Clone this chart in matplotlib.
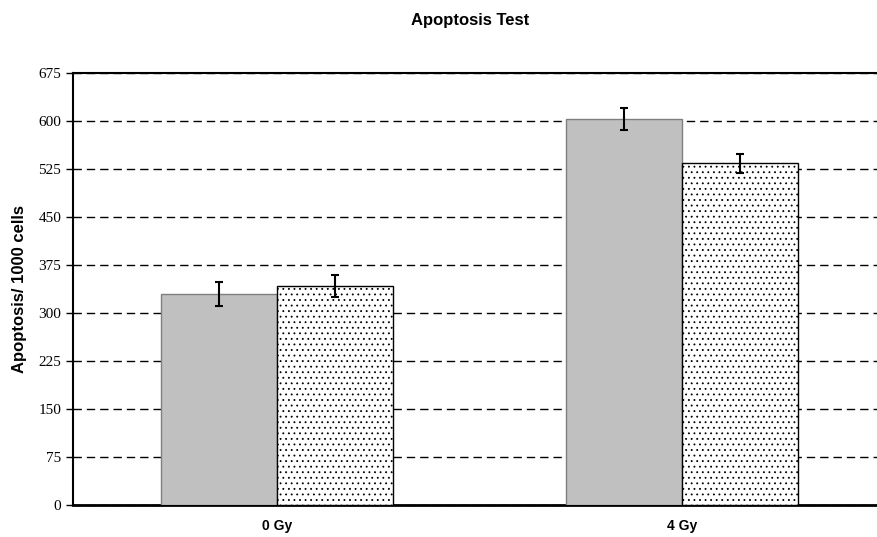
import matplotlib.pyplot as plt
import numpy as np

categories = ["0 Gy", "4 Gy"]
control = [330, 603]
control_err = [19, 17]
treated = [342, 534]
treated_err = [17, 15]
yticks = [0, 75, 150, 225, 300, 375, 450, 525, 600, 675]

fig = plt.figure(figsize=(8.77, 5.37), dpi=100)
ax = fig.add_axes([73/877, 32/537, 804/877, 432/537])

x = np.arange(len(categories))
w = 0.286
plt.rcParams['hatch.linewidth'] = 0.6
plt.rcParams['hatch.color'] = "black"

ax.bar(x - w/2, control, w, color="#c0c0c0", edgecolor="#7f7f7f", linewidth=1.0,
       yerr=control_err, capsize=3, error_kw=dict(elinewidth=1.5, capthick=1.5, ecolor="black"),
       zorder=3)
ax.bar(x + w/2, treated, w, color="white", edgecolor="black", linewidth=1.0, hatch="...",
       yerr=treated_err, capsize=3, error_kw=dict(elinewidth=1.5, capthick=1.5, ecolor="black"),
       zorder=3)

ax.set_xlim(-0.504, 1.481)
ax.set_ylim(0, 675)
ax.set_yticks(yticks)
ax.set_yticklabels([str(t) for t in yticks], family="Liberation Serif", fontsize=11)
ax.set_xticks(x)
ax.set_xticklabels(categories, family="Liberation Sans", fontweight="bold", fontsize=10)
ax.tick_params(axis="x", length=0, pad=10)
ax.tick_params(axis="y", direction="out", length=5, width=1)

ax.yaxis.grid(True, linestyle=(0, (6, 3.6)), color="black", linewidth=1.0, zorder=0)
ax.set_axisbelow(True)

ax.spines["right"].set_visible(False)
ax.spines["left"].set_linewidth(1.5)
ax.spines["bottom"].set_linewidth(2)
ax.spines["top"].set_linewidth(1.5)

ax.set_ylabel("Apoptosis/ 1000 cells", family="Liberation Sans", fontweight="bold",
              fontsize=12, labelpad=8)
fig.text(0.536, 0.962, "Apoptosis Test", family="Liberation Sans", fontweight="bold",
         fontsize=12, ha="center", va="center")

fig.savefig("out.png", dpi=100)
